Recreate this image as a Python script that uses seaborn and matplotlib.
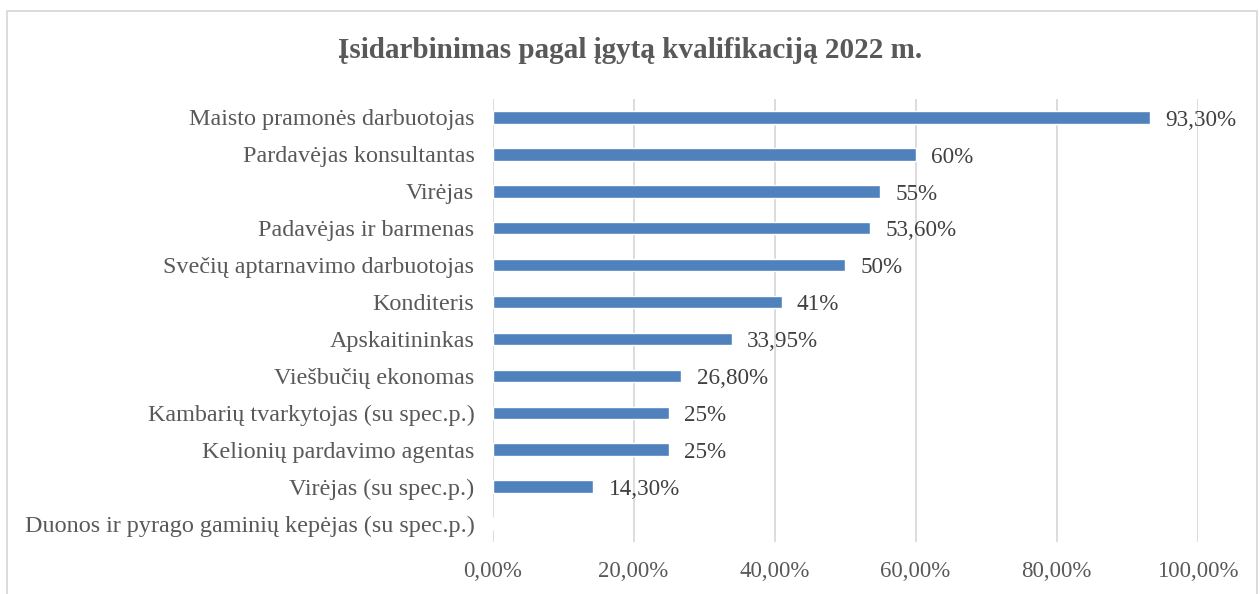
import matplotlib
matplotlib.use("Agg")
import matplotlib.pyplot as plt
import seaborn as sns
import pandas as pd
from matplotlib.patches import Rectangle
from matplotlib.ticker import FuncFormatter

categories = [
    "Maisto pramonės darbuotojas",
    "Pardavėjas konsultantas",
    "Virėjas",
    "Padavėjas ir barmenas",
    "Svečių aptarnavimo darbuotojas",
    "Konditeris",
    "Apskaitininkas",
    "Viešbučių ekonomas",
    "Kambarių tvarkytojas (su spec.p.)",
    "Kelionių pardavimo agentas",
    "Virėjas (su spec.p.)",
    "Duonos ir pyrago gaminių kepėjas (su spec.p.)",
]
values = [93.30, 60, 55, 53.60, 50, 41, 33.95, 26.80, 25, 25, 14.30, 0]
value_labels = ["93,30%", "60%", "55%", "53,60%", "50%", "41%", "33,95%",
                "26,80%", "25%", "25%", "14,30%", ""]
x_ticks = [0, 20, 40, 60, 80, 100]
title = "Įsidarbinimas pagal įgytą kvalifikaciją 2022 m."

sns.set_theme(style="white")
plt.rcParams["font.family"] = ["Liberation Serif", "DejaVu Serif"]

df = pd.DataFrame({"category": categories, "value": values})

fig = plt.figure(figsize=(12.6, 5.94), dpi=100)
ax = fig.add_axes([492.5 / 1260, 1 - 542 / 594, (1197.7 - 492.5) / 1260, (542 - 99) / 594])

sns.barplot(data=df, x="value", y="category", orient="h", color="#4F81BD",
            saturation=1, width=0.34, ax=ax, zorder=3)

ax.set_xlim(0, 100)
ax.set_ylim(11.5, -0.5)
ax.set_xticks(x_ticks)
ax.xaxis.set_major_formatter(FuncFormatter(lambda v, p: f"{v:.2f}%".replace(".", ",")))
ax.grid(axis="x", color="#D9D9D9", linewidth=1.3, zorder=0)
ax.grid(axis="y", visible=False)
for s in ax.spines.values():
    s.set_visible(False)
ax.set_xlabel("")
ax.set_ylabel("")
ax.tick_params(axis="y", length=0, pad=13, labelsize=17.4, labelcolor="#595959")
ax.tick_params(axis="x", length=0, pad=14, labelsize=16.5, labelcolor="#595959")

texts = ax.bar_label(ax.containers[0], labels=value_labels, padding=11, fontsize=16.7,
                     color="#404040", clip_on=False)
for t in texts:
    t.xyann = (t.xyann[0], -2)

fig.text(0.5, 1 - 51 / 594, title, ha="center", va="center", fontsize=21,
         fontweight="bold", color="#595959")

fig.patches.append(Rectangle((7 / 1260, -0.1), (1257 - 7) / 1260, 1.1 - 11 / 594,
                             transform=fig.transFigure, fill=False,
                             edgecolor="#D9D9D9", linewidth=1.3))

fig.savefig("out.png", dpi=100)
